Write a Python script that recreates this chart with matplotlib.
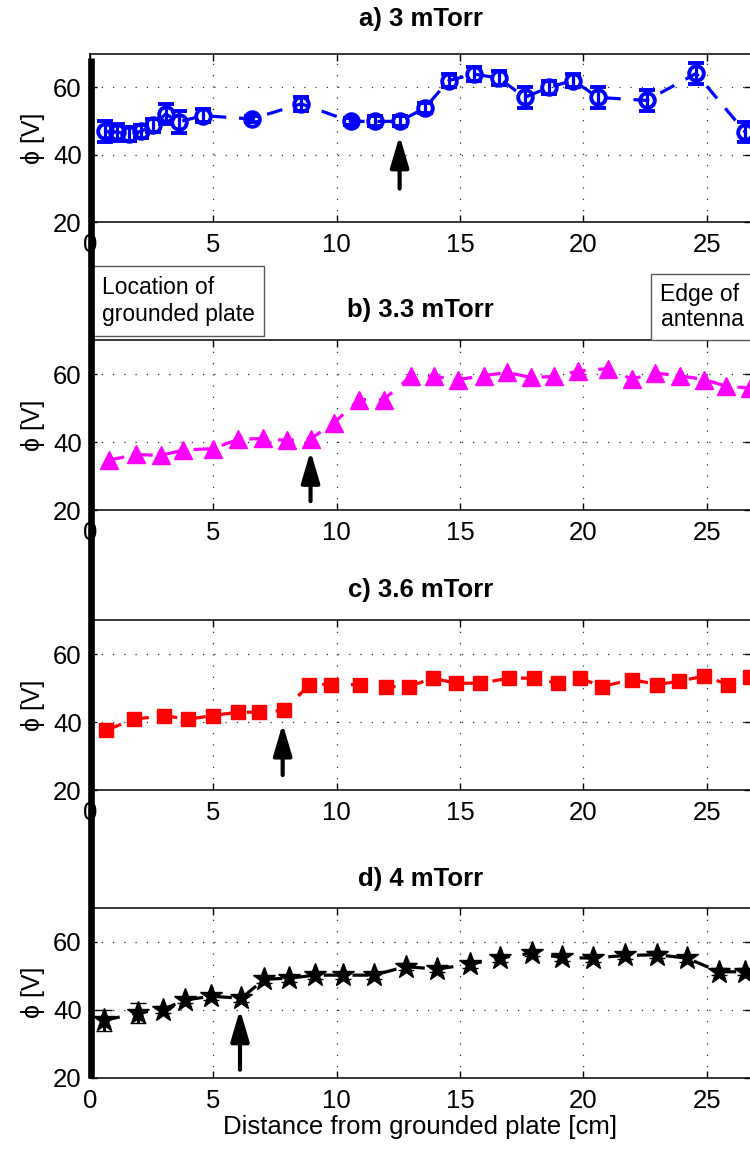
import matplotlib
matplotlib.use("Agg")
import matplotlib.pyplot as plt
from matplotlib.patches import FancyArrowPatch
from matplotlib.lines import Line2D

plt.rcParams['font.family'] = ['Liberation Sans', 'DejaVu Sans']

# ---- data -----------------------------------------------------------------
x_a = [0.6, 1.1, 1.6, 2.05, 2.57, 3.07, 3.59, 4.57, 6.56, 8.56, 10.56, 11.55,
       12.55, 13.56, 14.55, 15.57, 16.58, 17.62, 18.61, 19.58, 20.6, 22.57,
       24.57, 26.56]
y_a = [46.9, 46.7, 46.2, 46.9, 48.7, 52.1, 49.7, 51.6, 50.6, 55.1, 49.9, 49.9,
       49.9, 53.8, 62.0, 63.9, 62.7, 57.0, 60.0, 62.0, 57.0, 56.1, 64.1, 46.7]
e_a = [3.2, 2.5, 2.0, 2.0, 2.0, 3.0, 3.2, 2.0, 1.0, 2.0, 1.0, 1.5, 1.5, 1.5,
       2.0, 2.0, 2.0, 3.0, 2.0, 2.0, 3.0, 3.0, 3.0, 3.0]

x_b = [0.75, 1.88, 2.86, 3.79, 4.98, 5.99, 7.0, 7.99, 8.94, 9.9, 10.9, 11.9,
       13.0, 13.94, 14.93, 15.97, 16.9, 17.88, 18.8, 19.8, 21.0, 21.96, 22.9,
       23.9, 24.9, 25.8, 26.75]
y_b = [34.7, 36.4, 36.1, 37.7, 38.1, 40.8, 41.1, 40.5, 41.0, 45.7, 52.5, 52.5,
       59.3, 59.3, 58.4, 59.5, 60.5, 59.0, 59.3, 60.9, 61.6, 58.5, 60.3, 59.5,
       58.4, 56.4, 55.9]

x_c = [0.66, 1.77, 2.99, 3.96, 5.0, 5.99, 6.86, 7.87, 8.89, 9.76, 10.94, 11.98,
       12.93, 13.89, 14.84, 15.8, 17.0, 18.0, 18.98, 19.88, 20.75, 21.96, 23.0,
       23.87, 24.9, 25.87, 26.74]
y_c = [37.6, 40.8, 41.9, 40.8, 41.9, 42.9, 42.9, 43.4, 51.0, 51.0, 51.0, 50.4,
       50.4, 52.9, 51.4, 51.4, 52.9, 52.9, 51.4, 52.9, 50.4, 52.5, 51.0, 52.0,
       53.5, 51.0, 53.2]

x_d = [0.57, 1.96, 2.95, 3.87, 4.91, 6.13, 7.07, 8.07, 9.11, 10.24, 11.5, 12.8,
       14.06, 15.4, 16.6, 17.9, 19.15, 20.37, 21.7, 23.0, 24.2, 25.5, 26.56]
y_d = [36.8, 39.0, 40.0, 42.8, 43.9, 43.3, 48.9, 49.2, 50.1, 50.1, 50.1, 52.6,
       51.9, 53.3, 55.1, 56.6, 55.3, 55.1, 55.9, 56.1, 55.1, 51.1, 51.1]
e_d = [3.2, 3.0, 1.0, 1.0, 1.0, 1.0, 1.0, 1.0, 1.0, 1.0, 1.0, 1.0, 1.0, 1.0,
       1.0, 1.0, 1.0, 1.0, 1.0, 1.0, 1.0, 1.0, 1.0]

titles = ["a) 3 mTorr", "b) 3.3 mTorr", "c) 3.6 mTorr", "d) 4 mTorr"]
# transition points marked with arrows: (x, tail y, head y)
arrows = [(12.55, 30.0, 45.7), (8.94, 22.7, 37.4), (7.81, 24.4, 39.5),
          (6.08, 22.3, 40.0)]
x_ticks = [0, 5, 10, 15, 20, 25]
y_ticks = [20, 40, 60]

# ---- figure ----------------------------------------------------------------
W, H = 750, 1149
fig = plt.figure(figsize=(W / 100, H / 100), dpi=100)

left_px, right_px = 90, 751
px_per_cm = 24.67
panel_px = [(53.5, 222.3), (340, 510.3), (620, 790), (907.5, 1077.5)]
title_y = [19, 310, 590, 879]

axes = []
for (top, bot) in panel_px:
    ax = fig.add_axes([left_px / W, 1 - bot / H, (right_px - left_px) / W,
                       (bot - top) / H])
    ax.set_xlim(0, (right_px - left_px) / px_per_cm)
    ax.set_ylim(20, 70)
    ax.set_xticks(x_ticks)
    ax.set_yticks(y_ticks)
    ax.tick_params(direction='in', length=5, width=1, labelsize=18.5,
                   top=True, right=True, pad=6)
    ax.tick_params(axis='x', pad=8)
    ax.grid(True, color='0.2', linestyle=(0, (1, 8)), linewidth=0.9)
    for s in ax.spines.values():
        s.set_linewidth(1.1)
    ax.set_ylabel("ϕ [V]", fontsize=18, labelpad=6)
    axes.append(ax)

dash = (0, (5, 4))

ax = axes[0]
ax.errorbar(x_a, y_a, yerr=e_a, color='blue', linestyle=dash, linewidth=2.3,
            marker='o', ms=10.5, mfc='none', mew=2.8, elinewidth=2.3,
            capsize=5.5, capthick=2.6, zorder=3)

ax = axes[1]
ax.plot(x_b, y_b, color='magenta', linestyle=dash, linewidth=2.3,
        marker='^', ms=13.5, mew=1, zorder=3)

ax = axes[2]
ax.plot(x_c, y_c, color='red', linestyle=dash, linewidth=2.3,
        marker='s', ms=10.5, mew=1, zorder=3)

ax = axes[3]
ax.errorbar(x_d, y_d, yerr=e_d, color='black', linestyle=dash, linewidth=2.3,
            marker='*', ms=17, mew=1, elinewidth=2.3, capsize=5.5,
            capthick=2.6, zorder=3)
ax.set_xlabel("Distance from grounded plate [cm]", fontsize=18.5, labelpad=2)

for ax, (xa, y0, y1) in zip(axes, arrows):
    arr = FancyArrowPatch((xa, y0), (xa, y1),
                          arrowstyle='-|>,head_length=0.95,head_width=0.28',
                          mutation_scale=20, color='black', lw=3.0,
                          shrinkA=0, shrinkB=0, zorder=4)
    ax.add_patch(arr)

for t, ty in zip(titles, title_y):
    fig.text((left_px + right_px) / 2 / W, 1 - ty / H, t, ha='center',
             va='center', fontsize=18.5, fontweight='bold')

# annotation boxes between the first two panels
fig.text(101.5 / W, 1 - 301 / H, "Location of\ngrounded plate", ha='left',
         va='center', fontsize=16.5, linespacing=1.25,
         bbox=dict(boxstyle='square,pad=0.42', fc='white', ec='0.35', lw=1))
fig.text(660.5 / W, 1 - 307 / H, "Edge of\nantenna", ha='left',
         va='center', fontsize=16.5, linespacing=1.08,
         bbox=dict(boxstyle='square,pad=0.4', fc='white', ec='0.35', lw=1))

# heavy vertical line marking the grounded plate position
fig.add_artist(Line2D([90.7 / W, 90.7 / W], [1 - 58 / H, 1 - 1077.5 / H],
                      color='black', linewidth=4.8, solid_capstyle='butt',
                      transform=fig.transFigure, zorder=10))

fig.savefig("out.png", dpi=100)
